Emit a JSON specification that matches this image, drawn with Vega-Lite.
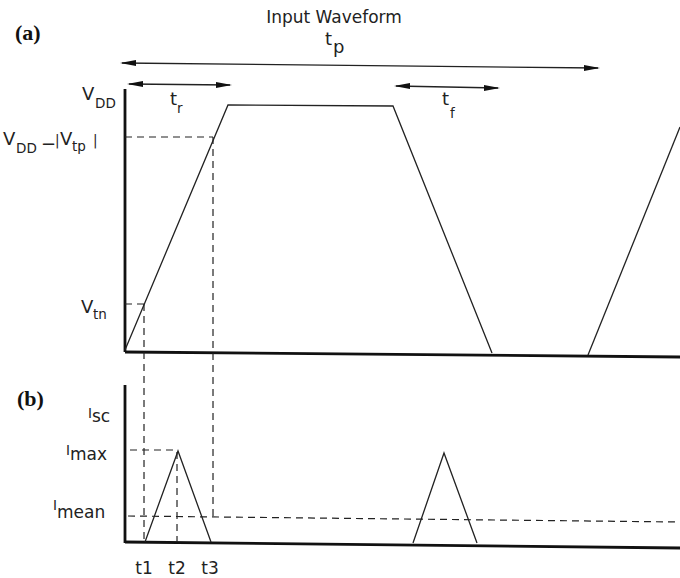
{
  "$schema": "https://vega.github.io/schema/vega-lite/v6.json",
  "width": 680,
  "height": 578,
  "padding": 0,
  "autosize": {"type": "none"},
  "background": "white",
  "config": {"view": {"stroke": null}},
  "datasets": {
    "axes": [
      {"seg": "a_y", "x": 125, "y": 89}, {"seg": "a_y", "x": 125, "y": 352},
      {"seg": "a_x", "x": 125, "y": 352}, {"seg": "a_x", "x": 680, "y": 357},
      {"seg": "b_y", "x": 125, "y": 385}, {"seg": "b_y", "x": 125, "y": 543},
      {"seg": "b_x", "x": 125, "y": 542}, {"seg": "b_x", "x": 680, "y": 548}
    ],
    "wave": [
      {"seg": "w1", "x": 125, "y": 350}, {"seg": "w1", "x": 228, "y": 105},
      {"seg": "w1", "x": 393, "y": 106}, {"seg": "w1", "x": 492, "y": 353},
      {"seg": "w2", "x": 588, "y": 355}, {"seg": "w2", "x": 680, "y": 127},
      {"seg": "tri1", "x": 145, "y": 542}, {"seg": "tri1", "x": 178, "y": 451}, {"seg": "tri1", "x": 211, "y": 542},
      {"seg": "tri2", "x": 413, "y": 543}, {"seg": "tri2", "x": 444, "y": 453}, {"seg": "tri2", "x": 477, "y": 543}
    ],
    "dashed": [
      {"seg": "d1", "x": 125, "y": 137}, {"seg": "d1", "x": 213, "y": 137},
      {"seg": "d2", "x": 213, "y": 137}, {"seg": "d2", "x": 213.01, "y": 517},
      {"seg": "d3", "x": 125, "y": 304}, {"seg": "d3", "x": 144, "y": 304},
      {"seg": "d4", "x": 144, "y": 304}, {"seg": "d4", "x": 144.01, "y": 542},
      {"seg": "d5", "x": 130, "y": 450}, {"seg": "d5", "x": 178, "y": 450},
      {"seg": "d6", "x": 177, "y": 452}, {"seg": "d6", "x": 177.01, "y": 542},
      {"seg": "d7", "x": 128, "y": 516}, {"seg": "d7", "x": 680, "y": 522}
    ],
    "arrows": [
      {"seg": "tp", "x": 122, "y": 63}, {"seg": "tp", "x": 598, "y": 68},
      {"seg": "tr", "x": 129, "y": 84}, {"seg": "tr", "x": 230, "y": 85},
      {"seg": "tf", "x": 396, "y": 86}, {"seg": "tf", "x": 498, "y": 88}
    ],
    "heads": [
      {"dir": "left", "x": 120, "y": 63}, {"dir": "right", "x": 600, "y": 68},
      {"dir": "left", "x": 127, "y": 84}, {"dir": "right", "x": 232, "y": 85},
      {"dir": "left", "x": 394, "y": 86}, {"dir": "right", "x": 500, "y": 88}
    ],
    "main": [
      {"t": "V", "x": 82, "y": 100},
      {"t": "V", "x": 3, "y": 145},
      {"t": "−", "x": 41, "y": 150},
      {"t": "V", "x": 60, "y": 145},
      {"t": "V", "x": 81, "y": 313},
      {"t": "t", "x": 325, "y": 45},
      {"t": "p", "x": 333, "y": 53},
      {"t": "t", "x": 170, "y": 105},
      {"t": "t", "x": 442, "y": 105}
    ],
    "sub": [
      {"t": "DD", "x": 95, "y": 108},
      {"t": "DD", "x": 16, "y": 153},
      {"t": "tp", "x": 72, "y": 151},
      {"t": "|", "x": 55, "y": 145},
      {"t": "|", "x": 93, "y": 145},
      {"t": "tn", "x": 93, "y": 319},
      {"t": "r", "x": 177, "y": 113},
      {"t": "f", "x": 450, "y": 118},
      {"t": "I", "x": 88, "y": 418},
      {"t": "I", "x": 66, "y": 455},
      {"t": "I", "x": 53, "y": 510}
    ],
    "sub2": [
      {"t": "sc", "x": 92, "y": 422},
      {"t": "max", "x": 70, "y": 460},
      {"t": "mean", "x": 57, "y": 518}
    ],
    "ticks": [
      {"t": "t1", "x": 144, "y": 574},
      {"t": "t2", "x": 177, "y": 574},
      {"t": "t3", "x": 210, "y": 574}
    ],
    "panels": [
      {"t": "(a)", "x": 15, "y": 40},
      {"t": "(b)", "x": 17, "y": 406}
    ],
    "title": [
      {"t": "Input Waveform", "x": 334, "y": 23}
    ]
  },
  "encoding": {
    "x": {"field": "x", "type": "quantitative", "scale": {"domain": [0, 680], "nice": false, "zero": false}, "axis": null},
    "y": {"field": "y", "type": "quantitative", "scale": {"domain": [0, 578], "nice": false, "zero": false, "reverse": true}, "axis": null}
  },
  "layer": [
    {
      "data": {"name": "axes"},
      "mark": {"type": "line", "color": "#111", "strokeWidth": 2.8},
      "encoding": {"detail": {"field": "seg"}}
    },
    {
      "data": {"name": "wave"},
      "mark": {"type": "line", "color": "#222", "strokeWidth": 1.3},
      "encoding": {"detail": {"field": "seg"}}
    },
    {
      "data": {"name": "dashed"},
      "mark": {"type": "line", "color": "#222", "strokeWidth": 1.2, "strokeDash": [7, 5]},
      "encoding": {"detail": {"field": "seg"}}
    },
    {
      "data": {"name": "arrows"},
      "mark": {"type": "line", "color": "#222", "strokeWidth": 1.3},
      "encoding": {"detail": {"field": "seg"}}
    },
    {
      "data": {"name": "heads"},
      "mark": {"type": "point", "filled": true, "color": "#111", "size": 256, "opacity": 1},
      "encoding": {
        "shape": {"field": "dir", "type": "nominal", "legend": null,
          "scale": {"domain": ["left", "right"], "range": ["M0,0L2,-0.36L2,0.36Z", "M0,0L-2,-0.36L-2,0.36Z"]}}
      }
    },
    {
      "data": {"name": "main"},
      "mark": {"type": "text", "font": "DejaVu Sans", "fontSize": 18, "align": "left", "baseline": "alphabetic", "color": "#222"},
      "encoding": {"text": {"field": "t"}}
    },
    {
      "data": {"name": "sub"},
      "mark": {"type": "text", "font": "DejaVu Sans", "fontSize": 13.5, "align": "left", "baseline": "alphabetic", "color": "#222"},
      "encoding": {"text": {"field": "t"}}
    },
    {
      "data": {"name": "sub2"},
      "mark": {"type": "text", "font": "DejaVu Sans", "fontSize": 17, "align": "left", "baseline": "alphabetic", "color": "#222"},
      "encoding": {"text": {"field": "t"}}
    },
    {
      "data": {"name": "ticks"},
      "mark": {"type": "text", "font": "DejaVu Sans", "fontSize": 17, "align": "center", "baseline": "alphabetic", "color": "#222"},
      "encoding": {"text": {"field": "t"}}
    },
    {
      "data": {"name": "panels"},
      "mark": {"type": "text", "font": "Liberation Serif", "fontWeight": "bold", "fontSize": 22, "align": "left", "baseline": "alphabetic", "color": "#111"},
      "encoding": {"text": {"field": "t"}}
    },
    {
      "data": {"name": "title"},
      "mark": {"type": "text", "font": "DejaVu Sans", "fontSize": 17, "align": "center", "baseline": "alphabetic", "color": "#222"},
      "encoding": {"text": {"field": "t"}}
    }
  ]
}
